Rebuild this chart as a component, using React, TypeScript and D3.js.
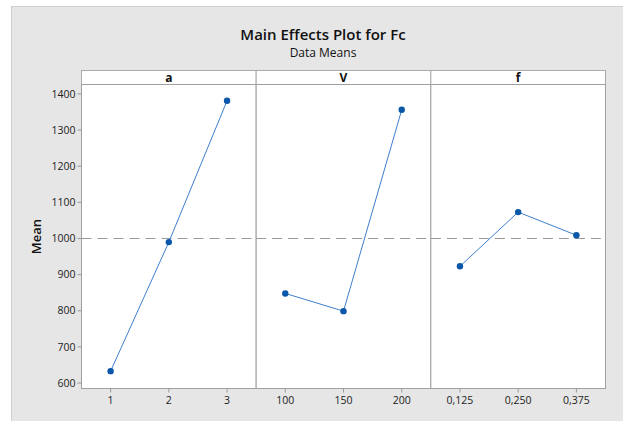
import React from 'react';
import { scaleLinear, line } from 'd3';

// factors shown as panels
const factors = ['a', 'V', 'f'];
const levelLabels = [
  ['1', '2', '3'],
  ['100', '150', '200'],
  ['0,125', '0,250', '0,375'],
];
const meanValues = [
  [633, 990, 1381],
  [848, 799, 1356],
  [923, 1073, 1009],
];
const yTicks = [600, 700, 800, 900, 1000, 1100, 1200, 1300, 1400];
const grandMean = 1000;

const width = 623;
const height = 421;
const plotLeft = 81.5;
const plotRight = 605.5;
const stripTop = 70.5;
const stripBottom = 84.5;
const plotBottom = 388.5;

const font = "'Open Sans', 'Segoe UI', sans-serif";

export default function App() {
  const panelW = (plotRight - plotLeft) / factors.length;

  let yScale = scaleLinear().domain([585, 1426]).range([plotBottom, stripBottom]);

  return (
    <svg
      width={width}
      height={height}
      style={{ position: 'absolute', left: 0, top: 0, display: 'block' }}
      fontFamily={font}
    >
      <rect x={0} y={0} width={width} height={height} fill='#fff' />
      <rect x={11.5} y={6.5} width={width} height={height} fill='#e6e6e6' stroke='#cfcfcf' />

      <text x={323} y={40} textAnchor='middle' fontSize={15} fontWeight={600} fill='#111'>
        Main Effects Plot for Fc
      </text>
      <text x={323} y={57} textAnchor='middle' fontSize={12} fill='#111'>
        Data Means
      </text>

      {/* y axis */}
      <text
        transform={`translate(41,${(stripBottom + plotBottom) / 2}) rotate(-90)`}
        textAnchor='middle'
        fontSize={13}
        fontWeight={600}
        fill='#111'
      >
        Mean
      </text>
      {yTicks.map(t => (
        <g key={t} transform={`translate(0,${yScale(t)})`}>
          <line x1={plotLeft - 4} x2={plotLeft} stroke='#999' />
          <text x={plotLeft - 6} dy='0.35em' textAnchor='end' fontSize={10.5} fill='#222'>
            {t}
          </text>
        </g>
      ))}

      {factors.map((name, i) => {
        const x0 = plotLeft + i * panelW;
        let xScale = scaleLinear().domain([-0.5, 2.5]).range([x0, x0 + panelW]);
        const pts = meanValues[i].map((v, j) => [xScale(j), yScale(v)] as [number, number]);
        const path = line()(pts);
        return (
          <g key={name}>
            <rect x={x0} y={stripTop} width={panelW} height={stripBottom - stripTop} fill='#fff' stroke='#aaa' />
            <text x={x0 + panelW / 2} y={stripTop + 11} textAnchor='middle' fontSize={12} fontWeight={700} fill='#111'>
              {name}
            </text>
            <rect x={x0} y={stripBottom} width={panelW} height={plotBottom - stripBottom} fill='#fff' stroke='#a0a0a0' />
            <line
              x1={x0}
              x2={x0 + panelW}
              y1={yScale(grandMean)}
              y2={yScale(grandMean)}
              stroke='#999'
              strokeDasharray='10,6'
            />
            <path d={path || ''} fill='none' stroke='#3f7fcc' strokeWidth={1} />
            {pts.map((p, j) => (
              <circle key={j} cx={p[0]} cy={p[1]} r={3.2} fill='#0a56a8' />
            ))}
            {levelLabels[i].map((lab, j) => (
              <g key={lab} transform={`translate(${xScale(j)},${plotBottom})`}>
                <line y1={0} y2={4} stroke='#999' />
                <text y={15} textAnchor='middle' fontSize={10.5} fill='#222'>
                  {lab}
                </text>
              </g>
            ))}
          </g>
        );
      })}
    </svg>
  );
}
